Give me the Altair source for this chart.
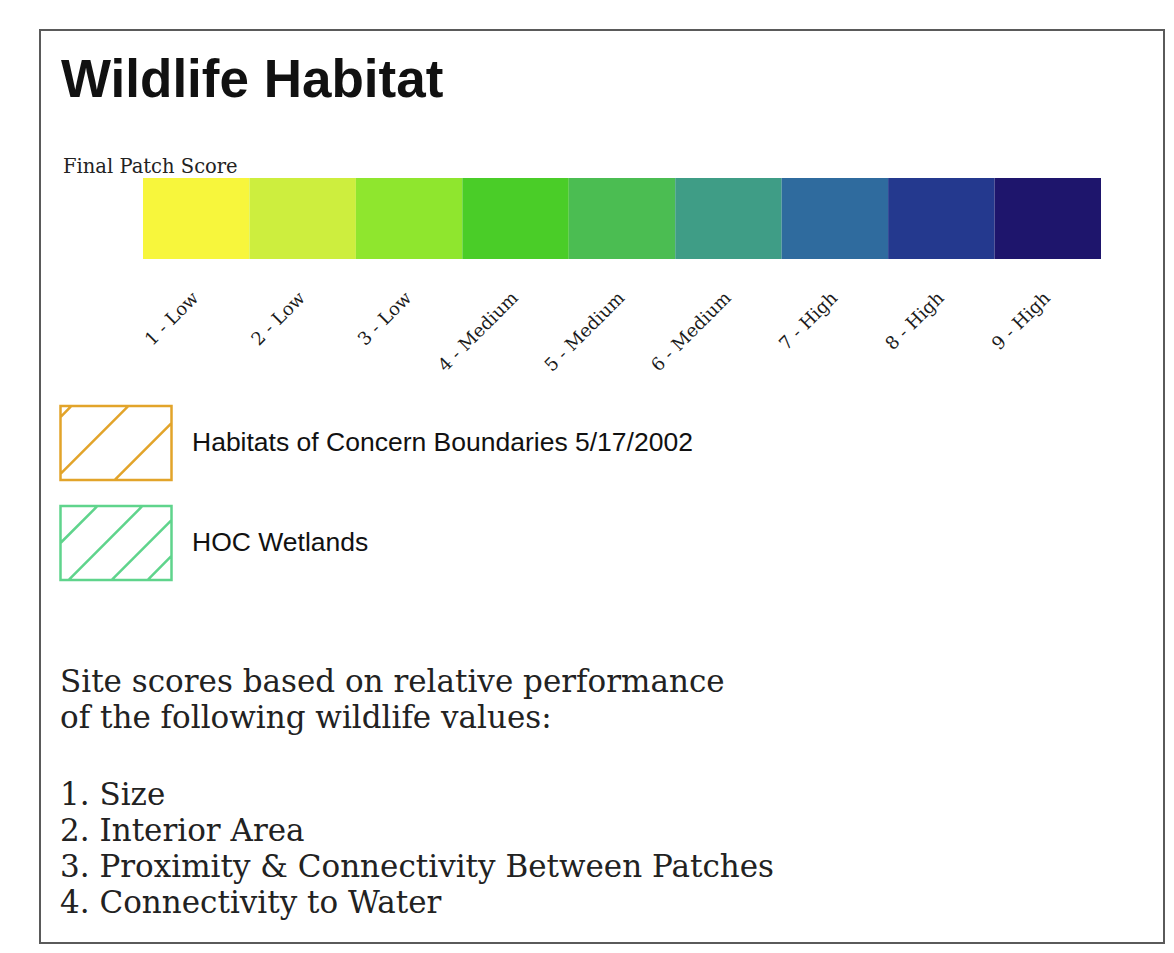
import altair as alt
import pandas as pd

# ---------------- data ----------------
title_text = "Wildlife Habitat"
scale_title = "Final Patch Score"
score_labels = ["1 - Low", "2 - Low", "3 - Low", "4 - Medium", "5 - Medium",
                "6 - Medium", "7 - High", "8 - High", "9 - High"]
score_colors = ["#f7f63c", "#cdee3e", "#8fe62e", "#4acd28", "#4bbd52",
                "#3f9d86", "#2f6b9e", "#24398e", "#1e156c"]
legend_labels = ["Habitats of Concern Boundaries 5/17/2002", "HOC Wetlands"]
legend_colors = ["#e2a42a", "#5fd48c"]
intro_lines = ["Site scores based on relative performance",
               "of the following wildlife values:"]
value_lines = ["1. Size", "2. Interior Area",
               "3. Proximity & Connectivity Between Patches",
               "4. Connectivity to Water"]

# hatched box symbols (unit square coordinates, -1..1)
HATCH_WIDE = ("M-1,-0.667H1V0.667H-1Z"
              "M-1,-0.468L-0.802,-0.667"
              "M-1,0.558L0.225,-0.667"
              "M-0.027,0.667L1,-0.36")
HATCH_NARROW = ("M-1,-0.667H1V0.667H-1Z"
                "M-1,0L-0.333,-0.667"
                "M-0.856,0.667L0.477,-0.667"
                "M-0.081,0.667L1,-0.414"
                "M0.568,0.667L1,0.234")

W, H = 1124, 913
SERIF = "DejaVu Serif"
SANS = "Liberation Sans"

bar_df = pd.DataFrame({"score": score_labels, "band": ["bar"] * len(score_labels)})
bars = alt.Chart(bar_df).mark_rect().encode(
    x=alt.X("score:N", sort=score_labels,
            scale=alt.Scale(range=[103, 1061], paddingInner=0, paddingOuter=0),
            axis=alt.Axis(title=None, orient="bottom", offset=229 - H,
                          labelAngle=-45, labelAlign="right", labelBaseline="middle",
                          labelPadding=36, ticks=False, domain=False, grid=False,
                          labelFont=SERIF, labelFontSize=18, labelColor="#1a1a1a",
                          labelOverlap=False)),
    y=alt.Y("band:N", scale=alt.Scale(range=[148, 229], paddingInner=0, paddingOuter=0),
            axis=None),
    fill=alt.Fill("score:N", sort=score_labels,
                  scale=alt.Scale(domain=score_labels, range=score_colors), legend=None),
)

legend_common = dict(
    title=None, orient="none", legendX=19, legendY=356,
    symbolSize=111 * 111, symbolStrokeWidth=2.5, symbolOpacity=1,
    symbolFillColor="transparent",
    labelFont=SANS, labelFontSize=26.5, labelColor="#111111", labelLimit=1000,
    labelOffset=19, rowPadding=-16.5, padding=0, offset=0,
)
leg_df = pd.DataFrame({"item": legend_labels})
legend_layer = alt.Chart(leg_df).mark_point(filled=False, opacity=0).encode(
    x=alt.value(0), y=alt.value(0),
    shape=alt.Shape("item:N", sort=legend_labels,
                    scale=alt.Scale(domain=legend_labels, range=[HATCH_WIDE, HATCH_NARROW]),
                    legend=alt.Legend(**legend_common)),
    stroke=alt.Stroke("item:N", sort=legend_labels,
                      scale=alt.Scale(domain=legend_labels, range=legend_colors),
                      legend=alt.Legend(**legend_common)),
)

title_layer = alt.Chart(pd.DataFrame({"t": [title_text]})).mark_text(
    font=SANS, fontSize=53, fontWeight="bold", align="left", baseline="alphabetic",
    color="#111111"
).encode(x=alt.value(21), y=alt.value(67), text="t:N")

scale_title_layer = alt.Chart(pd.DataFrame({"t": [scale_title]})).mark_text(
    font=SERIF, fontSize=19.5, align="left", baseline="alphabetic", color="#222222"
).encode(x=alt.value(23), y=alt.value(143), text="t:N")

intro_layer = alt.Chart(pd.DataFrame({"t": ["\n".join(intro_lines)]})).mark_text(
    font=SERIF, fontSize=31, align="left", baseline="alphabetic", color="#222222",
    lineBreak="\n", lineHeight=36
).encode(x=alt.value(20), y=alt.value(662), text="t:N")

values_layer = alt.Chart(pd.DataFrame({"t": ["\n".join(value_lines)]})).mark_text(
    font=SERIF, fontSize=31, align="left", baseline="alphabetic", color="#222222",
    lineBreak="\n", lineHeight=36
).encode(x=alt.value(20), y=alt.value(775), text="t:N")

chart = alt.layer(
    bars, legend_layer, title_layer, scale_title_layer, intro_layer, values_layer
).properties(
    width=W, height=H,
    autosize=alt.AutoSizeParams(type="none"),
    padding={"left": 32, "top": 22, "right": 2, "bottom": 2},
    background="white",
).configure_view(stroke="#5a5a5a", strokeWidth=2)

chart.save("out.html", embed_options={"renderer": "svg", "actions": False})
